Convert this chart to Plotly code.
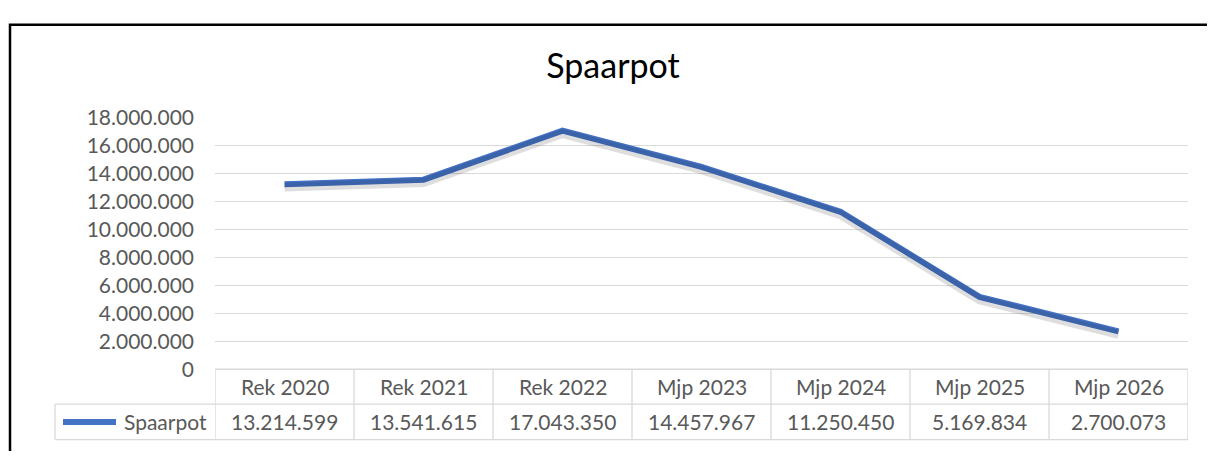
import plotly.graph_objects as go

# data
categories = ["Rek 2020", "Rek 2021", "Rek 2022", "Mjp 2023", "Mjp 2024", "Mjp 2025", "Mjp 2026"]
spaarpot = [13214599, 13541615, 17043350, 14457967, 11250450, 5169834, 2700073]
series_name = "Spaarpot"
y_ticks = list(range(0, 18000001, 2000000))

OFF = 8  # page body margin
W, H = 1215 - 2 * OFF, 459 - 2 * OFF  # keep the page exactly window sized
BLUE = "#4472C4"
GRID = "#D9D9D9"
TXT = "#595959"
FONT = "Lato, 'Open Sans', sans-serif"


def px(x):
    return (x - OFF) / W


def py(y):
    return 1 - (y - OFF) / H


def nl(v):
    return f"{v:,}".replace(",", ".")


# pixel layout of the plot area / data table (screen pixels)
PLOT_L, PLOT_R = 215, 1188
PLOT_T, PLOT_B = 109, 376
ROW_MID, TABLE_B = 413, 450.5
LEG_L = 55

fig = go.Figure()

# soft shadow under the line (same data, a few px lower via an offset axis)
shift = 3 * 18000000 / (PLOT_B - PLOT_T)
fig.add_trace(go.Scatter(
    x=categories, y=spaarpot, mode="lines", yaxis="y2",
    line=dict(color="rgba(0,0,0,0.13)", width=9),
    hoverinfo="skip", showlegend=False,
))
fig.add_trace(go.Scatter(
    x=categories, y=spaarpot, mode="lines", name=series_name,
    line=dict(color=BLUE, width=6),
    showlegend=False,
))

shapes = []
line = dict(color=GRID, width=1.3)
# table horizontal lines
shapes.append(dict(type="line", xref="paper", yref="paper", x0=px(PLOT_L), x1=px(PLOT_R),
                   y0=py(PLOT_B), y1=py(PLOT_B), line=line))
for yy in (ROW_MID, TABLE_B):
    shapes.append(dict(type="line", xref="paper", yref="paper", x0=px(LEG_L), x1=px(PLOT_R),
                       y0=py(yy), y1=py(yy), line=line))
# table vertical lines at category boundaries
for i in range(len(categories) + 1):
    shapes.append(dict(type="line", xref="x", yref="paper", x0=i - 0.5, x1=i - 0.5,
                       y0=py(PLOT_B), y1=py(TABLE_B), line=line))
shapes.append(dict(type="line", xref="paper", yref="paper", x0=px(LEG_L), x1=px(LEG_L),
                   y0=py(ROW_MID), y1=py(TABLE_B), line=line))
# legend key
shapes.append(dict(type="line", xref="paper", yref="paper", x0=px(63), x1=px(116),
                   y0=py(432), y1=py(432), line=dict(color=BLUE, width=6)))
# chart frame (top/left visible)
shapes.append(dict(type="rect", xref="paper", yref="paper", x0=px(10), x1=1.05,
                   y0=py(11), y1=-0.05, line=dict(color="black", width=2.5)))

cell_font = dict(size=21, color=TXT, family=FONT)
annotations = []
for cat, val in zip(categories, spaarpot):
    annotations.append(dict(x=cat, xref="x", y=py((PLOT_B + ROW_MID) / 2), yref="paper",
                            xanchor="center", yanchor="middle",
                            text=cat, showarrow=False, font=cell_font))
    annotations.append(dict(x=cat, xref="x", y=py((ROW_MID + TABLE_B) / 2), yref="paper",
                            xanchor="center", yanchor="middle",
                            text=nl(val), showarrow=False, font=cell_font))
annotations.append(dict(x=px(209), xref="paper", xanchor="right", y=py((ROW_MID + TABLE_B) / 2),
                        yref="paper", yanchor="middle", text=series_name, showarrow=False,
                        font=cell_font))

yaxis = dict(
    domain=[py(PLOT_B), py(PLOT_T)], range=[0, 18000000],
    tickvals=y_ticks, ticktext=[nl(v) for v in y_ticks],
    showgrid=True, gridcolor=GRID, gridwidth=1.3, zeroline=False, showline=False,
    tickfont=dict(size=21, color=TXT, family=FONT), ticklabelstandoff=20,
)

fig.update_layout(
    width=W, height=H,
    margin=dict(l=0, r=0, t=0, b=0),
    paper_bgcolor="white", plot_bgcolor="white",
    title=dict(text="Spaarpot", x=px(613), xanchor="center", y=py(55), yanchor="middle",
               xref="paper", yref="paper", font=dict(size=34, color="black", family=FONT)),
    xaxis=dict(domain=[px(PLOT_L), px(PLOT_R)], type="category", range=[-0.5, len(categories) - 0.5],
               showticklabels=False, showgrid=False, zeroline=False, showline=False),
    yaxis=yaxis,
    yaxis2=dict(overlaying="y", domain=yaxis["domain"], range=[shift, 18000000 + shift],
                visible=False),
    shapes=shapes,
    annotations=annotations,
    showlegend=False,
)

fig.write_html("out.html")
